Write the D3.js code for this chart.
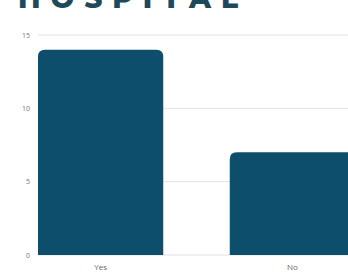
<!DOCTYPE html>
<html>
<head>
<meta charset="utf-8">
<script src="https://cdn.jsdelivr.net/npm/d3@7"></script>
<style>
  body { margin: 0; background: #fff; }
  svg { display: block; }
</style>
</head>
<body>
<div class="container"></div>
<script>
const categories = ["Yes", "No"];
const values = [14, 7];
const yTicks = [0, 5, 10, 15];

const width = 348;
const height = 280;

const svg = d3
  .select(".container")
  .append("svg")
  .attr("width", width)
  .attr("height", height);

// Title, cut off at the top like the source
svg
  .append("text")
  .attr("x", 18)
  .attr("y", 8)
  .attr("font-family", "Montserrat, 'Open Sans', sans-serif")
  .attr("font-weight", 800)
  .attr("font-size", 28)
  .attr("letter-spacing", 10)
  .attr("fill", "#1d4a5a")
  .text("HOSPITAL");

const xScale = d3
  .scaleBand()
  .domain(categories)
  .range([38, 355])
  .paddingInner(0.347)
  .paddingOuter(0);

const yScale = d3.scaleLinear().domain([0, 15]).range([255, 35]);

// Gridlines
svg
  .append("g")
  .selectAll("line")
  .data(yTicks)
  .enter()
  .append("line")
  .attr("x1", 38)
  .attr("x2", width)
  .attr("y1", (d) => yScale(d))
  .attr("y2", (d) => yScale(d))
  .attr("stroke", "#e2e2e2")
  .attr("stroke-width", 1);

// Y axis labels
const yAxis = d3.axisLeft(yScale).tickValues(yTicks).tickSize(0).tickPadding(0);
svg
  .append("g")
  .attr("transform", "translate(30,0)")
  .call(yAxis)
  .call((g) => g.select(".domain").remove())
  .call((g) =>
    g
      .selectAll("text")
      .attr("fill", "#777")
      .attr("font-size", 7)
      .attr("font-family", "'Open Sans', sans-serif")
  );

// Bars with rounded top corners
const r = 7;
svg
  .append("g")
  .selectAll("path")
  .data(values)
  .enter()
  .append("path")
  .attr("fill", "#0c4e6b")
  .attr("d", (d, i) => {
    const x0 = xScale(categories[i]);
    const x1 = x0 + xScale.bandwidth();
    const y0 = yScale(d);
    const yb = yScale(0);
    return (
      `M${x0},${yb}V${y0 + r}Q${x0},${y0} ${x0 + r},${y0}` +
      `H${x1 - r}Q${x1},${y0} ${x1},${y0 + r}V${yb}Z`
    );
  });

// X axis labels
const xAxis = d3.axisBottom(xScale).tickSize(0).tickPadding(0);
svg
  .append("g")
  .attr("transform", "translate(0,264)")
  .call(xAxis)
  .call((g) => g.select(".domain").remove())
  .call((g) =>
    g
      .selectAll("text")
      .attr("fill", "#666")
      .attr("font-size", 8)
      .attr("font-family", "'Open Sans', sans-serif")
  );
</script>
</body>
</html>
